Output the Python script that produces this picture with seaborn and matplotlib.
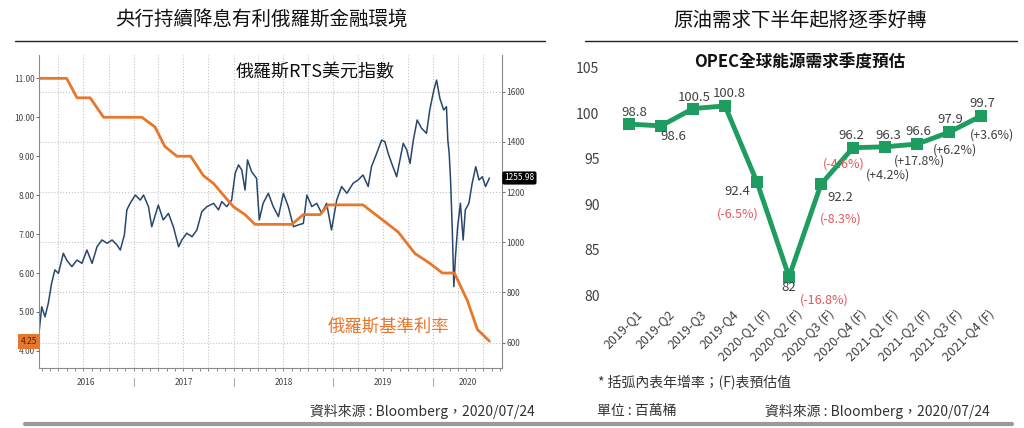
import matplotlib
matplotlib.use('Agg')
import matplotlib.pyplot as plt
import matplotlib.dates as mdates
from matplotlib.lines import Line2D
from matplotlib.ticker import FormatStrFormatter, NullFormatter
from matplotlib.transforms import ScaledTranslation, blended_transform_factory
import numpy as np
import pandas as pd
import seaborn as sns

# --- left chart: RTS index (USD) and Russian key rate ---
rts_dates = [
    "2016-01-21", "2016-01-31", "2016-02-12", "2016-02-24", "2016-03-07", "2016-03-19",
    "2016-04-01", "2016-04-19", "2016-05-01", "2016-05-20", "2016-06-08", "2016-06-26",
    "2016-07-14", "2016-08-02", "2016-08-20", "2016-09-07", "2016-09-26", "2016-10-14",
    "2016-11-01", "2016-11-13", "2016-11-28", "2016-12-07", "2016-12-19", "2017-01-07",
    "2017-01-25", "2017-02-06", "2017-02-24", "2017-03-08", "2017-04-01", "2017-04-19",
    "2017-05-08", "2017-05-26", "2017-06-14", "2017-06-26", "2017-07-14", "2017-08-02",
    "2017-08-20", "2017-09-07", "2017-09-26", "2017-10-20", "2017-11-07", "2017-11-19",
    "2017-12-07", "2017-12-25", "2018-01-07", "2018-01-19", "2018-01-31", "2018-02-12",
    "2018-02-21", "2018-03-08", "2018-03-26", "2018-04-05", "2018-04-19", "2018-05-08",
    "2018-05-26", "2018-06-14", "2018-07-02", "2018-07-20", "2018-08-08", "2018-08-26",
    "2018-09-13", "2018-09-26", "2018-10-14", "2018-11-01", "2018-11-19", "2018-12-07",
    "2018-12-25", "2019-01-13", "2019-01-31", "2019-02-19", "2019-03-14", "2019-04-01",
    "2019-04-19", "2019-05-08", "2019-05-20", "2019-06-08", "2019-06-26", "2019-07-08",
    "2019-07-20", "2019-08-02", "2019-08-20", "2019-09-01", "2019-09-13", "2019-09-26",
    "2019-10-08", "2019-10-20", "2019-11-03", "2019-11-19", "2019-12-07", "2019-12-19",
    "2020-01-03", "2020-01-13", "2020-01-25", "2020-02-08", "2020-02-18", "2020-02-23",
    "2020-02-28", "2020-03-04", "2020-03-10", "2020-03-16", "2020-03-22", "2020-03-30",
    "2020-04-09", "2020-04-19", "2020-04-27", "2020-05-10", "2020-05-22", "2020-06-04",
    "2020-06-16", "2020-06-28", "2020-07-10", "2020-07-24",
]
rts_values = [
    640, 743, 703, 757, 836, 890,
    876, 956, 929, 903, 929, 916,
    969, 916, 982, 1009, 996, 1009,
    989, 969, 1029, 1129, 1155, 1188,
    1168, 1188, 1142, 1062, 1148, 1089,
    1115, 1062, 982, 1009, 1036, 1022,
    1049, 1122, 1142, 1155, 1129, 1162,
    1142, 1168, 1275, 1308, 1288, 1208,
    1328, 1281, 1255, 1089, 1155, 1195,
    1142, 1102, 1195, 1142, 1062, 1069,
    1075, 1188, 1142, 1155, 1115, 1155,
    1049, 1168, 1222, 1195, 1235, 1248,
    1268, 1222, 1301, 1354, 1407, 1401,
    1354, 1314, 1261, 1328, 1394, 1368,
    1314, 1407, 1487, 1454, 1434, 1527,
    1607, 1646, 1573, 1527, 1540, 1407,
    1354, 1248, 1062, 823, 943, 1062,
    1155, 1009, 1129, 1155, 1235, 1301,
    1248, 1261, 1222, 1255.98,
]

rate_dates = [
    "2016-01-21", "2016-05-01", "2016-06-08", "2016-07-26", "2016-09-13", "2017-01-31",
    "2017-03-20", "2017-04-25", "2017-06-08", "2017-07-28", "2017-09-13", "2017-10-20",
    "2017-11-25", "2018-01-01", "2018-02-12", "2018-03-20", "2018-08-02", "2018-09-13",
    "2018-11-13", "2018-12-13", "2019-04-19", "2019-07-02", "2019-08-26", "2019-10-26",
    "2019-12-19", "2020-02-03", "2020-03-18", "2020-05-04", "2020-06-10", "2020-07-24",
]
rate_values = [
    11.0, 11.0, 10.5, 10.5, 10.0, 10.0,
    9.75, 9.25, 9.0, 9.0, 8.5, 8.3,
    8.0, 7.7, 7.5, 7.25, 7.25, 7.5,
    7.5, 7.75, 7.75, 7.35, 7.05, 6.5,
    6.25, 6.0, 6.0, 5.3, 4.55, 4.25,
]
years = [2016, 2017, 2018, 2019, 2020]

# --- right chart: OPEC quarterly demand ---
quarters = ["2019-Q1", "2019-Q2", "2019-Q3", "2019-Q4",
            "2020-Q1 (F)", "2020-Q2 (F)", "2020-Q3 (F)", "2020-Q4 (F)",
            "2021-Q1 (F)", "2021-Q2 (F)", "2021-Q3 (F)", "2021-Q4 (F)"]
demand = [98.8, 98.6, 100.5, 100.8, 92.4, 82, 92.2, 96.2, 96.3, 96.6, 97.9, 99.7]
growth = [None, None, None, None, -6.5, -16.8, -8.3, -4.6, 4.2, 17.8, 6.2, 3.6]

# label offsets in points (layout only)
value_offsets = [(4, 8), (9, -8), (1, 8), (3, 9), (-14, -7), (0, -8),
                 (14, -10), (-1, 9), (2, 8), (1, 9), (1, 9), (1, 9)]
growth_offsets = [None, None, None, None, (-14, -23), (25, -17),
                  (14, -25), (-7, -12), (2, -20), (2, -12), (4, -13), (8, -14)]

ORANGE = '#e8772e'
NAVY = '#27476e'
GREEN = '#1f9d61'
RED = '#e0575b'
TEXT = '#333333'

sns.set_theme(style='white')
plt.rcParams['font.family'] = ['Noto Sans CJK TC', 'DejaVu Sans']

W, H = 1024, 428
fig = plt.figure(figsize=(W / 100, H / 100), dpi=100)


def px_box(left, top, right, bottom):
    return [left / W, 1 - bottom / H, (right - left) / W, (bottom - top) / H]


# ================= left chart =================
ax1 = fig.add_axes(px_box(39, 55, 502, 368))
rts = pd.DataFrame({'date': pd.to_datetime(rts_dates), 'value': rts_values})
sns.lineplot(data=rts, x='date', y='value', ax=ax1, color=NAVY, linewidth=1.1)

ax2 = ax1.twinx()
rate = pd.DataFrame({'date': pd.to_datetime(rate_dates), 'value': rate_values})
sns.lineplot(data=rate, x='date', y='value', ax=ax2, color=ORANGE, linewidth=2.0)

x0, x1 = pd.Timestamp('2016-01-21'), pd.Timestamp('2020-09-08')
ax1.set_xlim(x0, x1)
ax1.xaxis.set_major_locator(mdates.MonthLocator(bymonth=[1, 4, 7, 10]))
ax1.xaxis.set_minor_locator(mdates.MonthLocator())
ax1.xaxis.set_major_formatter(NullFormatter())
ax1.tick_params(axis='x', which='both', bottom=True, length=2, width=0.6, color='#777', labelbottom=False)
ax1.grid(True, which='major', color='#c4c4c4', linestyle=':', linewidth=0.8)
ax1.set_xlabel('')
ax1.set_ylabel('')
ax2.set_ylabel('')

ax1.yaxis.tick_right()
ax1.set_yticks(range(600, 1601, 200))
ax1.set_ylim(499, 1746)
ax1.tick_params(axis='y', right=True, length=2, width=0.6, color='#555', labelsize=6, labelcolor='#444', pad=1)

ax2.yaxis.tick_left()
ax2.yaxis.set_label_position('left')
ax2.set_yticks(np.arange(4, 12))
ax2.yaxis.set_major_formatter(FormatStrFormatter('%.2f'))
ax2.set_ylim(3.56, 11.6)
ax2.tick_params(axis='y', left=True, length=2, width=0.6, color='#555', labelsize=6, labelcolor='#444', pad=1)
ax2.grid(False)

for name, sp in ax1.spines.items():
    sp.set_visible(name != 'top')
    sp.set_color('#8a8a8a')
    sp.set_linewidth(0.8)
for sp in ax2.spines.values():
    sp.set_visible(False)

# year labels centered on the visible part of each year, with separators
trans = blended_transform_factory(ax1.transData, ax1.transAxes)
for yr in years:
    start = max(pd.Timestamp(f'{yr}-01-01'), x0)
    end = min(pd.Timestamp(f'{yr + 1}-01-01'), x1)
    mid = start + (end - start) / 2
    ax1.text(mdates.date2num(mid), -0.045, str(yr), transform=trans,
             ha='center', va='center', fontsize=6, color='#444')
    if yr > years[0]:
        xs = mdates.date2num(pd.Timestamp(f'{yr}-01-01'))
        ax1.add_line(Line2D([xs, xs], [-0.032, -0.058], transform=trans,
                            color='#b0b0b0', linewidth=0.8, clip_on=False))

# last value tags
ax2.text(-0.004, rate_values[-1], f'{rate_values[-1]:.2f}',
         transform=blended_transform_factory(ax2.transAxes, ax2.transData),
         ha='right', va='center', fontsize=6, color='#5a1f00',
         bbox=dict(boxstyle='square,pad=0.35', fc=ORANGE, ec='none'))
ax1.text(1.005, rts_values[-1], f'{rts_values[-1]:.2f}',
         transform=blended_transform_factory(ax1.transAxes, ax1.transData),
         ha='left', va='center', fontsize=6, color='white',
         bbox=dict(boxstyle='round,pad=0.25', fc='black', ec='none'))

ax1.text(0.596, 0.943, '俄羅斯RTS美元指數', transform=ax1.transAxes,
         ha='center', va='center', fontsize=13, color='#111', fontweight='medium')
ax2.text(0.754, 0.131, '俄羅斯基準利率', transform=ax2.transAxes,
         ha='center', va='center', fontsize=12.5, color=ORANGE, fontweight='medium')

# ================= right chart =================
ax3 = fig.add_axes(px_box(605, 67.7, 1000, 295))
xpos = np.arange(len(quarters))
sns.lineplot(x=xpos, y=demand, ax=ax3, color=GREEN, linewidth=3.5,
             marker='s', markersize=9, markeredgewidth=0)
ax3.set_xlim(-0.75, 11.59)
ax3.set_ylim(80, 105)
ax3.set_yticks(range(80, 106, 5))
ax3.set_xticks(xpos)
ax3.set_xticklabels(quarters, rotation=45, ha='right', rotation_mode='anchor')
ax3.tick_params(axis='both', length=0, colors='#404040')
ax3.tick_params(axis='y', labelsize=10, pad=4)
ax3.tick_params(axis='x', labelsize=9, pad=9)
offset = ScaledTranslation(5 / 72, 0, fig.dpi_scale_trans)
for lab in ax3.get_xticklabels():
    lab.set_transform(lab.get_transform() + offset)
ax3.grid(False)
for sp in ax3.spines.values():
    sp.set_visible(False)

for i, v in enumerate(demand):
    ax3.annotate(f'{v:g}', (xpos[i], v), xytext=value_offsets[i], textcoords='offset points',
                 ha='center', va='center', fontsize=9.5, color='#404040')
    if growth[i] is not None:
        g = growth[i]
        ax3.annotate(f'({g:+.1f}%)', (xpos[i], v), xytext=growth_offsets[i], textcoords='offset points',
                     ha='center', va='center', fontsize=9,
                     color=RED if g < 0 else '#404040')

# ================= page texts and rules =================
fig.text(262 / W, 1 - 20 / H, '央行持續降息有利俄羅斯金融環境', ha='center', va='center',
         fontsize=14, color='#111', fontweight='medium')
fig.text(800 / W, 1 - 20 / H, '原油需求下半年起將逐季好轉', ha='center', va='center',
         fontsize=14, color='#111', fontweight='medium')
fig.add_artist(Line2D([15 / W, 545 / W], [1 - 41 / H, 1 - 41 / H], color='#222', linewidth=1.0))
fig.add_artist(Line2D([585 / W, 1017 / W], [1 - 41 / H, 1 - 41 / H], color='#222', linewidth=1.0))

fig.text(800 / W, 1 - 63 / H, 'OPEC全球能源需求季度預估', ha='center', va='center',
         fontsize=12, color='#111', fontweight='semibold')
fig.text(598 / W, 1 - 383 / H, '* 括弧內表年增率；(F)表預估值', ha='left', va='center',
         fontsize=10, color=TEXT)

fig.text(535 / W, 1 - 411 / H, '資料來源 : Bloomberg，2020/07/24', ha='right', va='center',
         fontsize=10, color=TEXT)
fig.text(597 / W, 1 - 411 / H, '單位 : 百萬桶', ha='left', va='center', fontsize=10, color=TEXT)
fig.text(990 / W, 1 - 411 / H, '資料來源 : Bloomberg，2020/07/24', ha='right', va='center',
         fontsize=10, color=TEXT)
fig.add_artist(Line2D([25 / W, 1012 / W], [1 - 424 / H, 1 - 424 / H], color='#9a9a9a', linewidth=3))

fig.savefig('out.png', dpi=100)
